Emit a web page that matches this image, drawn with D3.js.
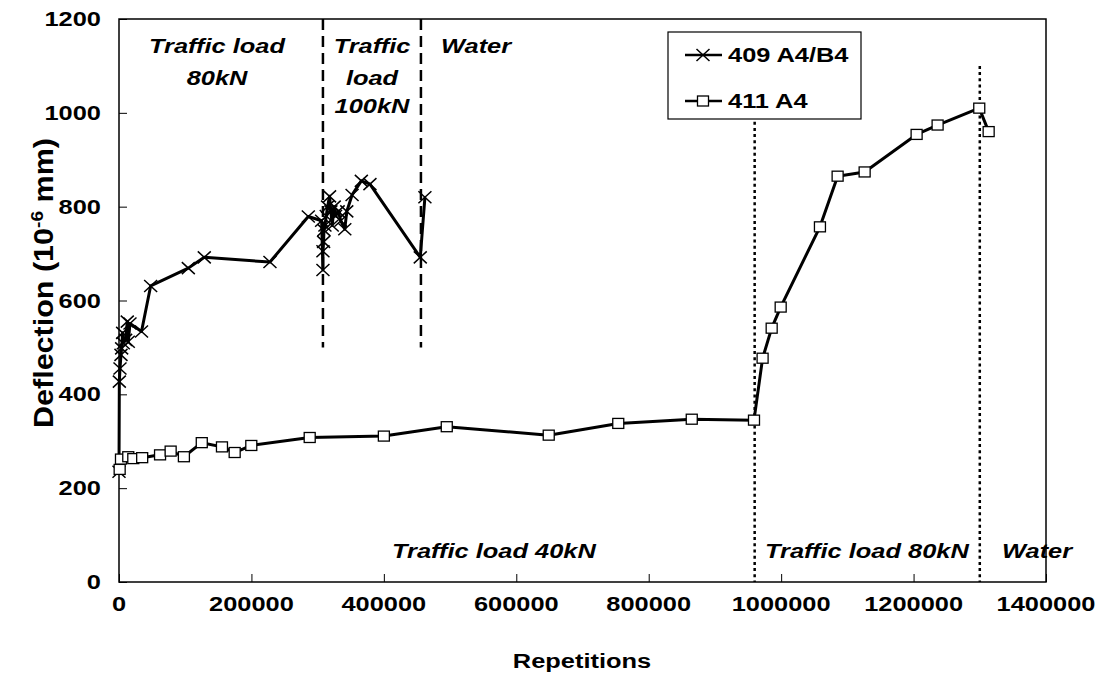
<!DOCTYPE html>
<html>
<head>
<meta charset="utf-8">
<script src="https://cdn.jsdelivr.net/npm/d3@7"></script>
<style>
  html, body { margin: 0; padding: 0; background: #fff; }
  svg text { font-family: "Liberation Sans", Arial, sans-serif; font-weight: bold; fill: #000; }
</style>
</head>
<body>
<svg id="chart" width="1105" height="675"></svg>
<script>
// Slab 409 A4/B4 — deflection vs load repetitions
const reps409 = [0, 500, 1500, 3000, 4000, 5500, 6500, 10000, 12500, 14000, 16600, 34000,
  47800, 104700, 128800, 228000, 285900, 306000, 308000, 308000, 309000, 309500, 311000,
  313000, 315000, 318000, 320000, 322000, 325000, 327000, 331000, 335000, 341000, 344000,
  352000, 366000, 379000, 455000, 462000];
const defl409 = [235, 427, 455, 484, 498, 531, 509, 516, 555, 512, 551, 534,
  631, 669, 692, 682, 779, 770, 665, 705, 725, 750, 760,
  780, 800, 822, 790, 760, 800, 780, 790, 770, 752, 790,
  825, 855, 848, 692, 820];

// Slab 411 A4
const reps411 = [1000, 3000, 14000, 21600, 35000, 62000, 78000, 98000, 125000, 155500,
  174700, 199800, 288000, 400000, 495000, 649000, 754000, 865000, 959000, 972000,
  985700, 999300, 1058600, 1085300, 1126100, 1204600, 1236300, 1299200, 1313400];
const defl411 = [240, 262, 267, 263, 265, 271, 279, 267, 297, 288,
  276, 291, 308, 311, 331, 313, 338, 347, 345, 477,
  541, 586, 757, 865, 874, 954, 974, 1010, 960];

// Load-phase boundaries
const phaseTop = [308000, 456000];      // 80kN -> 100kN -> water (409)
const phaseBottom = [960000, 1300000];  // 40kN -> 80kN -> water (411)

const xTicks = [0, 200000, 400000, 600000, 800000, 1000000, 1200000, 1400000];
const yTicks = [0, 200, 400, 600, 800, 1000, 1200];

const seriesNames = ["409 A4/B4", "411 A4"];

const svg = d3.select("#chart");
const SX = 1.27;     // horizontal glyph stretch
const FS = 20;

const L = 119, R = 1046, T = 19, B = 582;
const x = d3.scaleLinear().domain([0, 1400000]).range([L, R]);
const y = d3.scaleLinear().domain([0, 1200]).range([B, T]);

function label(parent, px, py, str, anchor, opts = {}) {
  const g = parent.append("g").attr("transform", `translate(${px},${py}) scale(${SX},1)`);
  const t = g.append("text")
    .attr("text-anchor", anchor)
    .style("font-size", (opts.size || FS) + "px")
    .text(str);
  if (opts.italic) t.style("font-style", "italic");
  return t;
}

// plot frame
svg.append("rect").attr("x", L).attr("y", T).attr("width", R - L).attr("height", B - T)
  .attr("fill", "#fff").attr("stroke", "#000").attr("stroke-width", 1.5);

// axes with inward ticks
const xAxis = svg.append("g").attr("transform", `translate(0,${B})`)
  .call(d3.axisBottom(x).tickValues(xTicks).tickSizeInner(-8).tickSizeOuter(0).tickFormat(""));
const yAxis = svg.append("g").attr("transform", `translate(${L},0)`)
  .call(d3.axisLeft(y).tickValues(yTicks).tickSizeInner(-8).tickSizeOuter(0).tickFormat(""));
[xAxis, yAxis].forEach(a => {
  a.select(".domain").remove();
  a.selectAll(".tick line").attr("stroke", "#000").attr("stroke-width", 1);
});

// tick labels
xTicks.forEach(v => label(svg, x(v), 611, String(v), "middle"));
yTicks.forEach(v => label(svg, 101, y(v) + 7, String(v), "end"));

// axis titles
label(svg, 582, 668, "Repetitions", "middle");
const yt = svg.append("g").attr("transform", `translate(53,283) rotate(-90) scale(1.13,1)`)
  .append("text").attr("text-anchor", "middle").style("font-size", "27px");
yt.append("tspan").text("Deflection (10");
yt.append("tspan").attr("dy", -10).style("font-size", "17px").text("-6");
yt.append("tspan").attr("dy", 10).text(" mm)");

// phase boundary lines
phaseTop.forEach(v => svg.append("line")
  .attr("x1", x(v)).attr("x2", x(v)).attr("y1", y(1200)).attr("y2", y(500))
  .attr("stroke", "#000").attr("stroke-width", 2.5).attr("stroke-dasharray", "11,6"));
phaseBottom.forEach(v => svg.append("line")
  .attr("x1", x(v)).attr("x2", x(v)).attr("y1", y(1100)).attr("y2", y(0))
  .attr("stroke", "#000").attr("stroke-width", 2.5).attr("stroke-dasharray", "3,3.2"));

// phase annotations
const ann = svg.append("g");
label(ann, 217, 53, "Traffic load", "middle", { italic: true });
label(ann, 217, 85, "80kN", "middle", { italic: true });
label(ann, 372, 53, "Traffic", "middle", { italic: true });
label(ann, 372, 85, "load", "middle", { italic: true });
label(ann, 372, 113, "100kN", "middle", { italic: true });
label(ann, 441, 53, "Water", "start", { italic: true });
label(ann, 392, 558, "Traffic load 40kN", "start", { italic: true });
label(ann, 765, 558, "Traffic load 80kN", "start", { italic: true });
label(ann, 1002, 558, "Water", "start", { italic: true });

// series
const line = d3.line().x(d => x(d[0])).y(d => y(d[1]));
const d409 = reps409.map((r, i) => [r, defl409[i]]);
const d411 = reps411.map((r, i) => [r, defl411[i]]);

function crossPath(cx, cy) {
  const hw = 6.5, hh = 6;
  return `M${cx - hw},${cy - hh}L${cx + hw},${cy + hh}M${cx - hw},${cy + hh}L${cx + hw},${cy - hh}`;
}

svg.append("path").datum(d409).attr("d", line).attr("fill", "none")
  .attr("stroke", "#000").attr("stroke-width", 3).attr("stroke-linejoin", "round");
svg.append("g").selectAll("path").data(d409).join("path")
  .attr("d", d => crossPath(x(d[0]), y(d[1])))
  .attr("stroke", "#000").attr("stroke-width", 1.5).attr("fill", "none");

svg.append("path").datum(d411).attr("d", line).attr("fill", "none")
  .attr("stroke", "#000").attr("stroke-width", 3).attr("stroke-linejoin", "round");
svg.append("g").selectAll("rect").data(d411).join("rect")
  .attr("x", d => x(d[0]) - 5.5).attr("y", d => y(d[1]) - 5)
  .attr("width", 11).attr("height", 10)
  .attr("fill", "#fff").attr("stroke", "#000").attr("stroke-width", 1.3);

// legend
const lg = svg.append("g");
lg.append("rect").attr("x", 668).attr("y", 32).attr("width", 193).attr("height", 87)
  .attr("fill", "#fff").attr("stroke", "#000").attr("stroke-width", 1.2);
const rows = [55, 101];
rows.forEach((ry, i) => {
  lg.append("line").attr("x1", 685).attr("x2", 722).attr("y1", ry).attr("y2", ry)
    .attr("stroke", "#000").attr("stroke-width", 2.5);
  if (i === 0) {
    lg.append("path").attr("d", crossPath(703, ry)).attr("stroke", "#000").attr("stroke-width", 1.5);
  } else {
    lg.append("rect").attr("x", 703 - 5.5).attr("y", ry - 5).attr("width", 11).attr("height", 10)
      .attr("fill", "#fff").attr("stroke", "#000").attr("stroke-width", 1.3);
  }
  label(lg, 728, ry + 7, seriesNames[i], "start");
});
</script>
</body>
</html>
